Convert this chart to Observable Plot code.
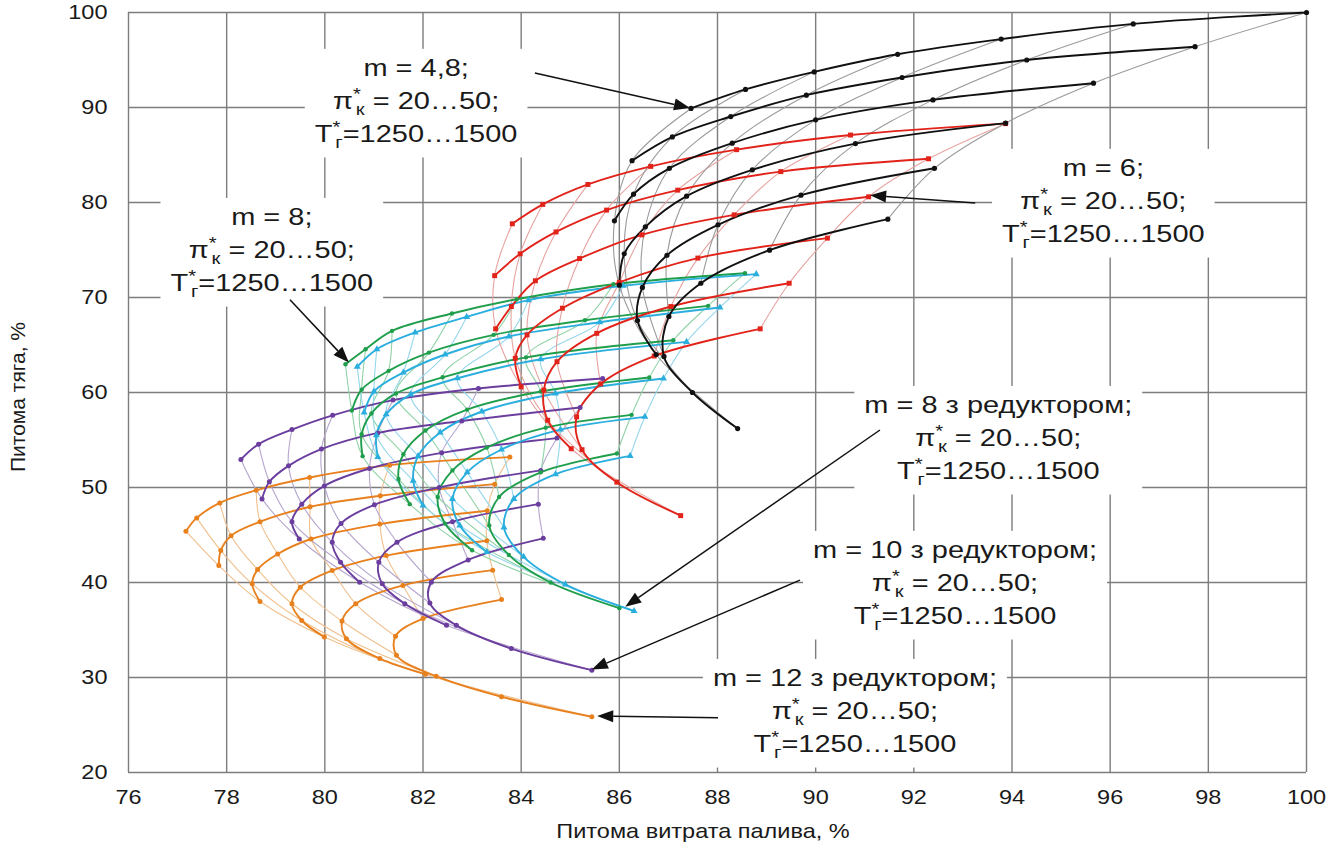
<!DOCTYPE html>
<html><head><meta charset="utf-8">
<script src="https://cdn.jsdelivr.net/npm/d3@7"></script>
<script src="https://cdn.jsdelivr.net/npm/@observablehq/plot@0.6"></script>
<style>body{margin:0;background:#fff}svg{display:block}</style>
</head><body><div id="chart"></div>
<script>
// ---- data ----
const xTicks = [76,78,80,82,84,86,88,90,92,94,96,98,100];
const yTicks = [20,30,40,50,60,70,80,90,100];
const xTitle = "Питома витрата палива, %";
const yTitle = "Питома тяга, %";

// m = 4,8 (black)
const black = [
 [[87.46,89.9],[88.57,91.9],[89.97,93.75],[91.67,95.6],[93.78,97.2],[96.47,98.8],[100,100]],
 [[86.26,84.4],[87.08,86.9],[88.27,89.05],[89.81,91.3],[91.76,93.16],[94.3,95.0],[97.73,96.4]],
 [[85.9,78.07],[86.29,80.88],[87.02,83.6],[88.3,86.25],[90.0,88.7],[92.39,90.8],[95.66,92.56]],
 [[86.0,71.3],[86.1,74.6],[86.53,77.44],[87.37,80.67],[88.71,83.44],[90.81,86.2],[93.87,88.35]],
 [[86.75,64.0],[86.37,67.57],[86.47,71.06],[86.97,74.45],[88.01,77.65],[89.7,80.77],[92.42,83.6]],
 [[88.41,56.2],[87.49,60.0],[86.91,63.8],[87.01,68.0],[87.66,71.5],[89.06,74.98],[91.47,78.25]]
];
// m = 6 (red)
const red = [
 [[83.82,77.76],[84.44,79.8],[85.36,81.9],[86.64,83.8],[88.39,85.56],[90.71,87.1],[93.87,88.3]],
 [[83.46,72.3],[83.98,74.6],[84.71,76.9],[85.74,79.2],[87.19,81.3],[89.29,83.25],[92.3,84.6]],
 [[83.48,66.7],[83.8,69.05],[84.29,71.76],[85.19,74.1],[86.46,76.6],[88.34,78.7],[91.08,80.6]],
 [[84.0,60.6],[83.88,63.6],[84.12,66.06],[84.84,68.87],[86.0,71.6],[87.6,74.15],[90.24,76.25]],
 [[85.02,54.08],[84.54,57.08],[84.46,60.25],[84.73,63.24],[85.54,66.23],[87.05,69.05],[89.46,71.5]],
 [[87.25,47.04],[85.95,50.56],[85.24,53.98],[85.13,57.43],[85.62,60.9],[86.71,63.84],[88.87,66.7]]
];
// m = 8 (green)
const green = [
 [[80.42,62.98],[80.83,64.56],[81.37,66.49],[82.59,68.32],[83.91,69.82],[85.88,71.4],[88.56,72.56]],
 [[80.55,58.1],[80.75,60.3],[81.3,62.28],[82.12,64.2],[83.44,66.07],[85.3,67.6],[87.81,69.12]],
 [[80.77,53.3],[80.75,55.6],[80.95,57.8],[81.45,59.9],[82.4,61.6],[84.1,63.7],[87.1,65.5]],
 [[81.73,48.25],[81.5,50.9],[81.6,53.5],[82.05,56.0],[82.9,58.2],[84.4,60.1],[86.61,61.58]],
 [[83.0,43.4],[82.45,46.2],[82.3,49.0],[82.6,51.8],[83.3,54.2],[84.5,56.3],[86.25,57.65]],
 [[86.0,37.3],[84.6,40.0],[83.75,42.9],[83.35,46.0],[83.55,49.0],[84.4,51.6],[85.95,53.58]]
];
// m = 8 з редуктором (cyan)
const cyan = [
 [[80.66,62.7],[81.06,64.56],[81.84,66.32],[82.89,67.96],[84.15,69.72],[86.08,71.23],[88.79,72.46]],
 [[80.8,57.9],[81.0,60.1],[81.6,62.1],[82.45,64.0],[83.75,65.9],[85.6,67.4],[88.05,68.95]],
 [[81.08,53.2],[81.05,55.5],[81.25,57.7],[81.75,59.8],[82.7,61.5],[84.4,63.5],[87.37,65.33]],
 [[82.0,48.1],[81.8,50.7],[81.9,53.3],[82.35,55.8],[83.2,58.0],[84.7,59.9],[86.9,61.47]],
 [[83.3,43.2],[82.75,46.0],[82.6,48.8],[82.9,51.6],[83.6,54.0],[84.8,56.1],[86.52,57.44]],
 [[86.3,37.0],[84.9,39.8],[84.05,42.7],[83.65,45.8],[83.85,48.8],[84.7,51.4],[86.22,53.33]]
];
// m = 10 з редуктором (purple)
const purple = [
 [[78.29,52.95],[78.65,54.56],[79.33,56.1],[80.16,57.6],[81.39,59.2],[83.13,60.42],[85.66,61.47]],
 [[78.72,48.8],[78.87,50.6],[79.26,52.28],[79.93,54.04],[81.08,55.75],[82.79,57.0],[85.2,58.42]],
 [[79.48,44.58],[79.33,46.4],[79.53,48.25],[79.99,50.17],[80.91,52.0],[82.38,53.65],[84.73,55.2]],
 [[80.71,40.03],[80.32,42.13],[80.15,44.23],[80.33,46.22],[81.01,48.18],[82.33,50.0],[84.4,51.8]],
 [[82.48,35.49],[81.63,37.76],[81.17,39.86],[81.1,42.13],[81.47,44.23],[82.6,46.4],[84.35,48.25]],
 [[85.44,30.77],[83.8,33.04],[82.68,35.49],[82.14,37.83],[82.17,40.03],[82.92,42.38],[84.45,44.65]]
];
// m = 12 з редуктором (orange)
const orange = [
 [[77.17,45.4],[77.39,46.8],[77.86,48.38],[78.6,49.7],[79.69,51.05],[81.32,52.35],[83.77,53.2]],
 [[77.84,41.78],[77.88,43.36],[78.09,44.93],[78.68,46.4],[79.7,47.97],[81.13,49.13],[83.46,50.35]],
 [[78.68,38.0],[78.52,39.86],[78.63,41.36],[79.04,43.0],[79.72,44.58],[81.12,46.15],[83.31,47.55]],
 [[79.99,34.27],[79.53,36.0],[79.33,37.76],[79.5,39.5],[80.15,41.26],[81.25,42.83],[83.3,44.4]],
 [[82.05,30.35],[81.12,31.99],[80.44,34.09],[80.35,35.94],[80.63,37.76],[81.59,39.69],[83.42,41.3]],
 [[85.44,25.87],[83.6,27.97],[82.27,30.14],[81.46,32.34],[81.44,34.34],[82.0,36.2],[83.6,38.2]]
];

// annotation texts
const noteHeads = ["m = 4,8;", "m = 6;", "m = 8;", "m = 8 з редуктором;", "m = 10 з редуктором;", "m = 12 з редуктором;"];
const piText = " = 20…50;";
const tText = "=1250…1500";

// ---- styles ----
const FONT = "'Liberation Sans', Arial, sans-serif";
const fams = [
  {name:"orange", curves:orange, color:"#e8801e", thin:"#f0c08e", symbol:"circle", r:2.5},
  {name:"purple", curves:purple, color:"#6a3d9e", thin:"#b6a6cf", symbol:"circle", r:2.5},
  {name:"green",  curves:green,  color:"#1f9e4c", thin:"#8fd2a6", symbol:"circle", r:2.2},
  {name:"cyan",   curves:cyan,   color:"#2aaede", thin:"#95d6ec", symbol:"triangle", r:2.6},
  {name:"red",    curves:red,    color:"#e2231a", thin:"#e6a3a0", symbol:"square", r:2.8},
  {name:"black",  curves:black,  color:"#111111", thin:"#9a9a9a", symbol:"circle", r:2.6}
];
const rowsOf = f => f.curves.flatMap((c, ci) => c.map(([x, y], i) => ({f: f.name, c: ci, i, x, y})));

const marks = [
  Plot.gridX(xTicks, {stroke:"#7d7d7d", strokeOpacity:1, strokeWidth:1.4}),
  Plot.gridY(yTicks, {stroke:"#7d7d7d", strokeOpacity:1, strokeWidth:1.4})
];
for (const f of fams) marks.push(Plot.line(rowsOf(f), {x:"x", y:"y", z:"i", stroke:f.thin, strokeWidth:1.1, curve:"catmull-rom"}));
for (const f of fams) marks.push(Plot.line(rowsOf(f), {x:"x", y:"y", z:"c", stroke:f.color, strokeWidth:1.9, curve:"catmull-rom"}));
for (const f of fams) marks.push(Plot.dot(rowsOf(f), {x:"x", y:"y", fill:f.color, stroke:"none", symbol:f.symbol, r:f.r}));

const plot = Plot.plot({
  width:1341, height:854,
  marginLeft:128, marginRight:35, marginTop:12, marginBottom:82,
  style:{fontFamily:FONT, fontSize:"21px", background:"#fff", color:"#1a1a1a", overflow:"visible"},
  x:{domain:[76,100], ticks:xTicks, tickSize:0, tickPadding:17, label:null},
  y:{domain:[20,100], ticks:yTicks, tickSize:0, tickPadding:21, label:null},
  marks
});
document.getElementById("chart").append(plot);

const svg = d3.select(plot);
const sx = plot.scale("x"), sy = plot.scale("y");
const X = v => sx.apply(v), Y = v => sy.apply(v);

// slightly wider glyphs, as in the reference
svg.selectAll('g[aria-label="x-axis tick label"] text, g[aria-label="y-axis tick label"] text').each(function(){
  const t = this.getAttribute("transform") || "";
  this.setAttribute("transform", t + " scale(1.12,1)");
});

// axis titles
svg.append("text").attr("transform", `translate(${(X(76)+X(100))/2 - 14},${Y(20)+66}) scale(1.12,1)`)
  .attr("text-anchor","middle").attr("font-family",FONT).attr("font-size",21).attr("fill","#1a1a1a").text(xTitle);
svg.append("text").attr("transform", `translate(25,${Y(60)+5}) rotate(-90)`)
  .attr("text-anchor","middle").attr("font-family",FONT).attr("font-size",21).attr("fill","#1a1a1a").text(yTitle);

// annotations: [head index, center x, first line y (data), arrow from, arrow to]
const notes = [
  [0, 81.87, 94.11, [84.29,93.58], [87.45,89.9]],
  [1, 95.87, 83.58, [93.26,79.9], [91.12,80.7]],
  [2, 78.93, 78.42, [79.3,69.7], [80.5,63.1]],
  [3, 93.73, 58.63, [91.32,56.0], [86.13,37.4]],
  [4, 92.85, 43.37, [89.69,40.2], [85.45,30.8]],
  [5, 90.81, 29.89, [88.02,25.7], [85.56,25.9]]
];
const LINE = 33, FS = 23, SUB = 16, SX = 1.26;
for (const [h, cx, cy, from, to] of notes) {
  const px = X(cx), py = Y(cy);
  const g = svg.append("g").attr("font-family",FONT).attr("font-size",FS).attr("fill","#1a1a1a");
  const mk = k => g.append("text").attr("text-anchor","middle").attr("transform",`translate(${px},${py + k*LINE + 8}) scale(${SX},1)`);
  mk(0).text(noteHeads[h]);
  const t1 = mk(1);
  t1.append("tspan").text("π");
  t1.append("tspan").attr("font-size",SUB).attr("dy",-9).text("*");
  t1.append("tspan").attr("font-size",SUB).attr("dy",15).attr("dx",-4).text("к");
  t1.append("tspan").attr("dy",-6).text(piText);
  const t2 = mk(2);
  t2.append("tspan").text("T");
  t2.append("tspan").attr("font-size",SUB).attr("dy",-9).text("*");
  t2.append("tspan").attr("font-size",SUB).attr("dy",15).attr("dx",-4).text("г");
  t2.append("tspan").attr("dy",-6).text(tText);
  const bb = g.node().getBBox();
  g.insert("rect", ":first-child").attr("x",bb.x-10).attr("y",bb.y-6).attr("width",bb.width+20).attr("height",bb.height+12).attr("fill","#fff");
  // arrow
  const x1 = X(from[0]), y1 = Y(from[1]), x2 = X(to[0]), y2 = Y(to[1]);
  const ang = Math.atan2(y2-y1, x2-x1), L = 16, Wd = 6;
  const bx = x2 - L*Math.cos(ang), by = y2 - L*Math.sin(ang);
  svg.append("line").attr("x1",x1).attr("y1",y1).attr("x2",bx).attr("y2",by).attr("stroke","#111").attr("stroke-width",1.5);
  svg.append("path").attr("d",`M${x2},${y2}L${bx - Wd*Math.sin(ang)},${by + Wd*Math.cos(ang)}L${bx + Wd*Math.sin(ang)},${by - Wd*Math.cos(ang)}Z`).attr("fill","#111");
}
</script></body></html>
